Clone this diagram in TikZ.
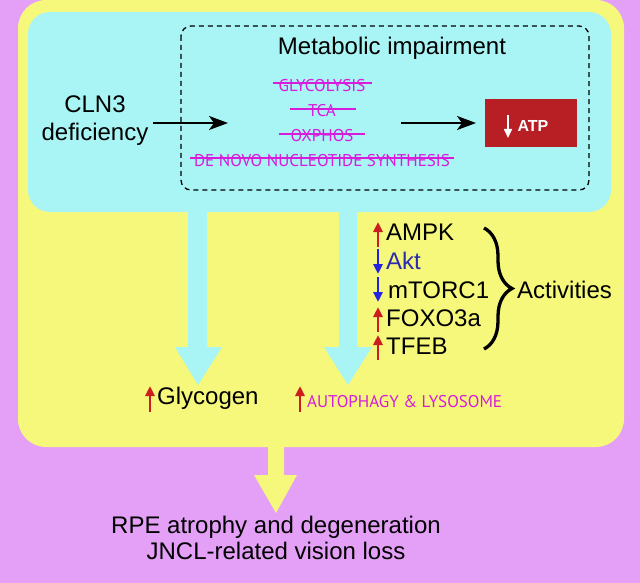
\documentclass[tikz,border=0pt]{standalone}
\usepackage{fontspec}
\setmainfont{Liberation Sans}
\newfontfamily\capfont{PT Sans}
\usetikzlibrary{arrows.meta,decorations.pathreplacing,calc}
\definecolor{bgviolet}{HTML}{E4A0F6}
\definecolor{boxyellow}{HTML}{F5F87A}
\definecolor{boxcyan}{HTML}{A9F5F5}
\definecolor{atpred}{HTML}{B81F25}
\definecolor{upred}{HTML}{CC1E1E}
\definecolor{downblue}{HTML}{2424E0}
\definecolor{aktblue}{HTML}{2B2BB0}
\definecolor{magtext}{HTML}{D81CDC}
\tikzset{
  bigtext/.style={inner sep=0pt, font=\fontsize{24}{28}\selectfont},
  captext/.style={inner sep=0pt, text=magtext, font=\capfont\fontsize{17}{19}\selectfont},
  strike/.style={draw=magtext, line width=1.1pt},
  blackarrow/.style={-{Stealth[length=19pt,width=14pt,inset=5pt]}, line width=2pt},
  uparrow/.style={-{Triangle[length=10pt,width=9pt]}, line width=2.5pt, draw=upred},
  downarrow/.style={-{Triangle[length=10pt,width=9pt]}, line width=2.5pt, draw=downblue},
}
\begin{document}
\begin{tikzpicture}[x=1pt,y=-1pt]
\useasboundingbox (0,0) rectangle (640,583);
\fill[bgviolet] (0,0) rectangle (640,583);
% yellow cell
\fill[boxyellow, rounded corners=28pt] (18,0) rectangle (624,447);
% cyan region
\fill[boxcyan, rounded corners=22pt] (28,12) rectangle (611,212);
% wide cyan arrows
\fill[boxcyan] (188,200) -- (207,200) -- (207,347) -- (222,347) -- (198,385) -- (175,347) -- (188,347) -- cycle;
\fill[boxcyan] (339,200) -- (357,200) -- (357,347) -- (372,347) -- (348,385) -- (324,347) -- (339,347) -- cycle;
% yellow arrow
\fill[boxyellow] (268,440) -- (284,440) -- (284,475) -- (297,475) -- (276,513) -- (254,475) -- (268,475) -- cycle;
% dashed box
\draw[line width=1.3pt, dash pattern=on 5pt off 4pt, rounded corners=10pt] (181,26) rectangle (589,190);

\node[bigtext] (met) at (392,48) {Metabolic impairment};
\node[bigtext, align=center, font=\fontsize{24}{28}\selectfont] (cln3) at (95,121) {CLN3\\deficiency};

\node[captext] (gly) at (322,86) {GLYCOLYSIS};
\node[captext] (tca) at (322,111) {TCA};
\node[captext] (oxp) at (322,136) {OXPHOS};
\node[captext] (dnn) at (322,161) {DE NOVO NUCLEOTIDE SYNTHESIS};
\draw[strike] (273,83) -- (372,83);
\draw[strike] (290,109) -- (356,109);
\draw[strike] (279,134) -- (365,134);
\draw[strike] (190,158) -- (454,158);

\coordinate (a1s) at (153,123);
\coordinate (a1e) at (228,123);
\coordinate (a2s) at (401,123);
\coordinate (a2e) at (476,123);
\draw[blackarrow] (a1s) -- (a1e);
\draw[blackarrow] (a2s) -- (a2e);

\node[fill=atpred, minimum width=92pt, minimum height=48pt, inner sep=0pt] (atp) at (531,123) {};
\node[inner sep=0pt, text=white, font=\bfseries\fontsize{16}{18}\selectfont] (atpt) at (533,126) {ATP};
\coordinate (atpa1) at (508,115);
\coordinate (atpa2) at (508,138);
\draw[-{Triangle[length=9pt,width=8pt]}, line width=1.6pt, draw=white] (atpa1) -- (atpa2);

% list
\node[bigtext, anchor=west] (ampk) at (386,232) {AMPK};
\node[bigtext, anchor=west, text=aktblue] (akt) at (386,261) {Akt};
\node[bigtext, anchor=west] (mtor) at (388,290) {mTORC1};
\node[bigtext, anchor=west] (foxo) at (386,318) {FOXO3a};
\node[bigtext, anchor=west] (tfeb) at (386,346) {TFEB};
\coordinate (u1a) at (378,247); \coordinate (u1b) at (378,222);
\coordinate (d1a) at (378,249); \coordinate (d1b) at (378,274);
\coordinate (d2a) at (378,277); \coordinate (d2b) at (378,302);
\coordinate (u2a) at (378,332); \coordinate (u2b) at (378,307);
\coordinate (u3a) at (378,360); \coordinate (u3b) at (378,335);
\draw[uparrow] (u1a) -- (u1b);
\draw[downarrow] (d1a) -- (d1b);
\draw[downarrow] (d2a) -- (d2b);
\draw[uparrow] (u2a) -- (u2b);
\draw[uparrow] (u3a) -- (u3b);
\coordinate (br1) at (484,228);
\coordinate (br2) at (484,349);
\draw[line width=3.3pt, decorate, decoration={brace, amplitude=28pt, aspect=0.5}] (br1) -- (br2);
\node[bigtext, anchor=west] (act) at (517,290) {Activities};

% glycogen and autophagy
\node[bigtext, anchor=west] (glyc) at (157,398) {Glycogen};
\coordinate (g1a) at (150,412); \coordinate (g1b) at (150,386);
\draw[uparrow] (g1a) -- (g1b);
\node[captext, anchor=west] (auto) at (307,402) {AUTOPHAGY \& LYSOSOME};
\coordinate (g2a) at (300,412); \coordinate (g2b) at (300,386);
\draw[uparrow] (g2a) -- (g2b);

% bottom text
\node[bigtext, align=center, font=\fontsize{24}{26.5}\selectfont] (out) at (276,538) {RPE atrophy and degeneration\\JNCL-related vision loss};
\end{tikzpicture}
\end{document}
